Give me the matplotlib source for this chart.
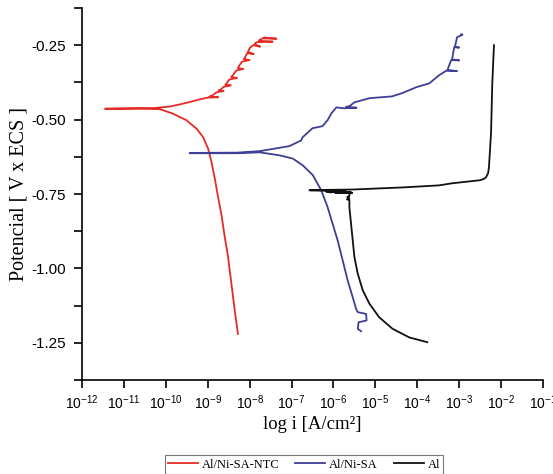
import numpy as np
import matplotlib
matplotlib.use("Agg")
import matplotlib.pyplot as plt
from matplotlib.ticker import FixedLocator, NullLocator

# log10(i) , E (cathodic branch from the bottom, then anodic branch)
ntc_logi = [-8.28, -8.36, -8.44, -8.52, -8.60, -8.67, -8.76, -8.83, -8.91, -8.99, -9.11, -9.27, -9.51,
            -9.83, -10.14, -10.62, -11.45,
            -11.45, -10.62, -10.26, -9.90, -9.67, -9.40, -9.19, -9.00, -8.75, -8.96, -8.88, -8.79,
            -8.62, -8.74, -8.71, -8.62, -8.45, -8.58, -8.55, -8.48, -8.30, -8.44, -8.40, -8.32,
            -8.15, -8.28, -8.24, -8.18, -8.00, -8.14, -8.12, -8.06, -7.90, -8.04, -8.00, -7.92,
            -7.75, -7.88, -7.84, -7.45, -7.78, -7.76, -7.69, -7.36, -7.66, -7.62]
ntc_E = [-1.220, -1.136, -1.046, -0.956, -0.889, -0.822, -0.755, -0.699, -0.643, -0.598, -0.559, -0.530, -0.502,
         -0.480, -0.465, -0.463, -0.464,
         -0.463, -0.462, -0.461, -0.456, -0.449, -0.440, -0.432, -0.426, -0.425, -0.423, -0.418, -0.408,
         -0.404, -0.402, -0.401, -0.390, -0.385, -0.383, -0.378, -0.365, -0.360, -0.357, -0.351, -0.335,
         -0.330, -0.327, -0.317, -0.305, -0.300, -0.297, -0.294, -0.277, -0.280, -0.272, -0.260, -0.250,
         -0.255, -0.246, -0.240, -0.238, -0.235, -0.232, -0.227, -0.228, -0.225, -0.224]

sa_logi = [-5.34, -5.42, -5.40, -5.21, -5.22, -5.42, -5.46, -5.54, -5.66, -5.78, -5.90, -6.02, -6.14, -6.29,
           -6.49, -6.73, -6.97, -7.29, -7.76, -8.30, -9.43,
           -9.43, -8.30, -7.76, -7.05, -6.77, -6.74, -6.50, -6.26, -6.14, -6.05, -5.93, -5.75, -5.45,
           -5.70, -5.62, -5.50, -5.14, -4.60, -4.36, -4.02, -3.71, -3.48, -3.31, -3.05, -3.28, -3.19,
           -3.00, -3.17, -3.12, -3.00, -3.10, -3.05, -2.92, -2.95]
sa_E = [-1.211, -1.203, -1.181, -1.175, -1.153, -1.147, -1.136, -1.097, -1.041, -0.973, -0.906, -0.850, -0.794, -0.738,
        -0.687, -0.654, -0.631, -0.620, -0.610, -0.613, -0.613,
        -0.612, -0.611, -0.606, -0.589, -0.570, -0.560, -0.529, -0.522, -0.502, -0.479, -0.459, -0.462, -0.460,
        -0.457, -0.455, -0.442, -0.428, -0.422, -0.411, -0.391, -0.378, -0.351, -0.336, -0.337, -0.333, -0.300,
        -0.301, -0.298, -0.257, -0.258, -0.255, -0.223, -0.215, -0.213]

al_logi = [-3.76, -4.19, -4.59, -4.91, -5.14, -5.30, -5.42, -5.50, -5.54, -5.58, -5.62, -5.62,
           -5.68, -5.62, -5.67, -5.62, -5.62, -5.55, -5.95, -5.58, -6.10, -5.70, -6.17, -5.90, -6.57,
           -6.57, -5.55, -4.36, -3.48, -3.17, -2.52, -2.42, -2.36, -2.31, -2.29, -2.24, -2.21, -2.17]
al_E = [-1.248, -1.232, -1.203, -1.164, -1.119, -1.074, -1.018, -0.962, -0.906, -0.850, -0.794, -0.770,
        -0.768, -0.764, -0.760, -0.757, -0.749, -0.746, -0.747, -0.744, -0.744, -0.742, -0.742, -0.740, -0.738,
        -0.737, -0.735, -0.728, -0.721, -0.714, -0.704, -0.700, -0.694, -0.680, -0.660, -0.546, -0.378, -0.250]

labels = ["Al/Ni-SA-NTC", "Al/Ni-SA", "Al"]
colors = ["#e52b25", "#3d3f96", "#111111"]

decades = list(range(-12, 0))
yticks = [-0.25, -0.50, -0.75, -1.00, -1.25]

fig = plt.figure(figsize=(5.53, 4.74), dpi=100)
ax = fig.add_axes([82 / 553, 1 - 380 / 474, 461 / 553, 372 / 474])

series = [(ntc_logi, ntc_E), (sa_logi, sa_E), (al_logi, al_E)]
for (li, e), lab, c in zip(series, labels, colors):
    ax.plot(10.0 ** np.array(li), e, color=c, lw=1.3, label=lab)

ax.set_xscale("log")
ax.set_xlim(1e-12, 1e-1)
ax.set_ylim(-1.375, -0.125)
ax.xaxis.set_major_locator(FixedLocator([10.0 ** d for d in decades]))
ax.xaxis.set_minor_locator(NullLocator())
ax.set_xticklabels([f"$\\mathregular{{10^{{{d}}}}}$" for d in decades])
ax.set_yticks(yticks)
ax.set_yticklabels([f"{v:.2f}" for v in yticks])
ax.yaxis.set_minor_locator(FixedLocator([-1.375, -1.125, -0.875, -0.625, -0.375, -0.125]))

for s in ["top", "right"]:
    ax.spines[s].set_visible(False)
for s in ["left", "bottom"]:
    ax.spines[s].set_linewidth(1.2)
ax.tick_params(which="both", direction="out", length=5.5, width=1.2)
ax.tick_params(axis="x", labelsize=10, pad=4)
ax.tick_params(axis="y", labelsize=11, pad=6)
for t in ax.get_xticklabels() + ax.get_yticklabels():
    t.set_fontfamily("Liberation Sans")

ax.set_xlabel("log i [A/cm²]", fontfamily="Liberation Serif", fontsize=13.5, labelpad=3)
ax.set_ylabel("Potencial [ V x ECS ]", fontfamily="Liberation Serif", fontsize=14.5, labelpad=2)

leg = fig.legend(loc="center", bbox_to_anchor=(304 / 553, 1 - 464.5 / 474), ncol=3,
                 prop={"family": "Liberation Serif", "size": 9}, frameon=True, fancybox=False,
                 edgecolor="#555555", borderpad=0.25, handlelength=2.4, handletextpad=0.3,
                 columnspacing=1.3, borderaxespad=0)
leg.get_frame().set_linewidth(0.8)

fig.savefig("out.png", dpi=100)
